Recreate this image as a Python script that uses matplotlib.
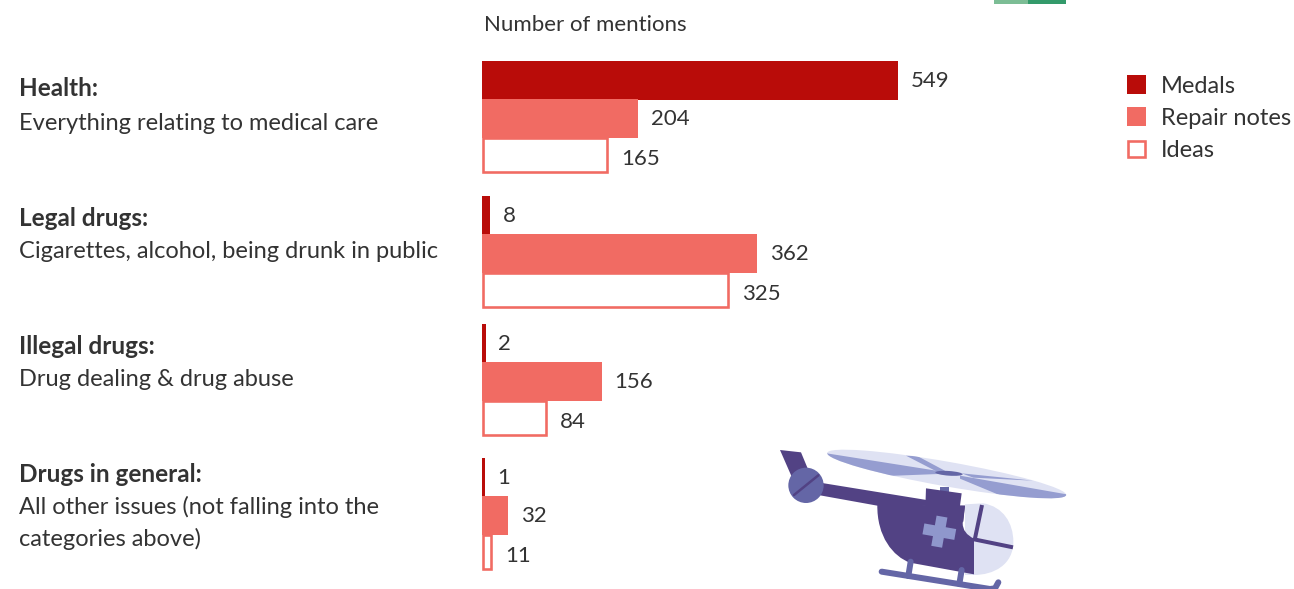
from matplotlib.patches import Circle, Ellipse, PathPatch, Polygon, Rectangle
from matplotlib.path import Path
from matplotlib.transforms import Affine2D
import matplotlib.pyplot as plt
import numpy as np

plt.rcParams['font.family'] = ['Lato', 'DejaVu Sans']

# Data
categories = ['Health:', 'Legal drugs:', 'Illegal drugs:', 'Drugs in general:']
descriptions = ['Everything relating to medical care',
                'Cigarettes, alcohol, being drunk in public',
                'Drug dealing & drug abuse',
                'All other issues (not falling into the\ncategories above)']
medals = [549, 8, 2, 1]
repair_notes = [204, 362, 156, 32]
ideas = [165, 325, 84, 11]

DARK_RED = '#b90c09'
SALMON = '#f16b63'
TEXT = '#333333'
PX = 72 / 100  # one pixel in points

fig = plt.figure(figsize=(12.94, 5.89), dpi=100)

# Overlay in pixel coordinates for text and the illustration
canvas = fig.add_axes([0, 0, 1, 1])
canvas.set_xlim(0, 1294)
canvas.set_ylim(589, 0)
canvas.axis('off')

# Bars: x is number of mentions, y stays in pixels
scale = 0.754
x0 = 483
ax = fig.add_axes([0, 0, 1, 1], facecolor='none')
ax.set_xlim(-x0 / scale, (1294 - x0) / scale)
ax.set_ylim(589, 0)
ax.axis('off')

centres = np.array([118, 253, 381, 515])
bar_h = 37
b1 = ax.barh(centres - 38, medals, height=bar_h, color=DARK_RED, edgecolor=DARK_RED, linewidth=2 * PX, label='Medals')
b2 = ax.barh(centres, repair_notes, height=bar_h, color=SALMON, edgecolor=SALMON, linewidth=2 * PX, label='Repair notes')
b3 = ax.barh(centres + 37, ideas, height=bar_h - 3, color='white', edgecolor=SALMON, linewidth=2.6 * PX, label='Ideas')

# value labels, nudged down a little per series
for bars, dy in ((b1, -1), (b2, -1), (b3, -3)):
    for ann in ax.bar_label(bars, padding=10, fontsize=16, color=TEXT):
        ann.xyann = (10, dy)

leg = ax.legend(handles=[b1, b2, b3], loc='upper left', bbox_to_anchor=(1128 / 1294, 1 - 76 / 589),
                frameon=False, fontsize=17, labelcolor=TEXT, handlelength=0.72, handleheight=0.72,
                handletextpad=0.68, labelspacing=0.47, borderpad=0, borderaxespad=0)

canvas.text(484, 25, 'Number of mentions', fontsize=16, color=TEXT, va='center')

# baselines; a wrapped description sits on its last line
title_base = [96, 226, 354, 482]
text_base = [130, 258, 386, 546]
for name, text, yt, yd in zip(categories, descriptions, title_base, text_base):
    canvas.text(19, yt, name, fontsize=17.5, fontweight='bold', color=TEXT, va='baseline')
    canvas.text(19, yd, text, fontsize=17, color=TEXT, va='baseline', linespacing=1.57)

# Green strip along the top edge
canvas.add_patch(Rectangle((994, 0), 34, 3.5, color='#7cbd95', lw=0))
canvas.add_patch(Rectangle((1028, 0), 38, 3.5, color='#339a6b', lw=0))

# Helicopter, outlined on a 3x grid and moved into place
heli = Affine2D().scale(1 / 3).translate(770, 440) + canvas.transData
PURPLE = '#524284'
MID = '#6466a6'
LIGHT = '#dfe2f3'
BLADE = '#959dd0'


def add(patch):
    patch.set_transform(heli)
    canvas.add_patch(patch)
    return patch


def line(points, color, width):
    xs, ys = zip(*points)
    canvas.plot(xs, ys, color=color, lw=width * PX, solid_capstyle='round', transform=heli)


# rotor disc and blades, blades clipped to the disc
disc = add(Ellipse((530, 102), 728, 74, angle=10, color=LIGHT, lw=0))
for pts in ([(170, 40), (505, 93), (505, 102), (300, 110), (150, 60)],
            [(570, 107), (890, 163), (890, 190), (700, 170), (570, 116)],
            [(408, 47), (440, 47), (530, 95), (505, 97)],
            [(575, 100), (790, 122), (610, 113)]):
    blade = add(Polygon(pts, color=BLADE, lw=0))
    blade.set_clip_path(disc)
add(Ellipse((537, 100), 82, 14, angle=4, color=MID, lw=0))
add(Rectangle((510, 140), 28, 16, color=MID, lw=0))

# windscreen behind the fuselage
add(PathPatch(Path([(585, 193), (640, 190), (700, 200), (730, 250), (730, 305), (730, 375), (670, 405), (612, 405),
                    (585, 405), (585, 193)],
                   [Path.MOVETO, Path.LINETO, Path.CURVE4, Path.CURVE4, Path.CURVE4, Path.CURVE4, Path.CURVE4, Path.CURVE4,
                    Path.LINETO, Path.CLOSEPOLY]),
              color=LIGHT, lw=0))

# tail and fuselage
add(Polygon([(30, 30), (93, 37), (115, 90), (65, 110)], color=PURPLE, lw=0))
add(Polygon([(150, 128), (470, 180), (470, 197), (322, 197), (150, 166)], color=PURPLE, lw=0))
add(Polygon([(468, 145), (575, 160), (570, 197), (585, 197), (580, 245), (465, 230)], color=PURPLE, lw=0))
add(PathPatch(Path([(322, 193), (585, 197), (578, 250), (578, 280), (612, 296), (612, 403), (420, 368),
                    (370, 350), (320, 290), (322, 193), (322, 193)],
                   [Path.MOVETO, Path.LINETO, Path.LINETO, Path.CURVE3, Path.CURVE3, Path.LINETO, Path.LINETO,
                    Path.CURVE4, Path.CURVE4, Path.CURVE4, Path.CLOSEPOLY]),
              color=PURPLE, lw=0))
add(Circle((108, 136), 53, color=MID, lw=0))
line([(72, 165), (145, 106)], PURPLE, 2.5)

# window frame
canvas.plot([636, 614], [195, 300], color=PURPLE, lw=4 * PX, transform=heli, solid_capstyle='butt')
canvas.plot([612, 729], [298, 322], color=PURPLE, lw=4 * PX, transform=heli, solid_capstyle='butt')

# medical cross
cross = Affine2D().rotate_deg(10).translate(508, 275) + heli
for w, h in ((97, 33), (33, 92)):
    canvas.add_patch(Rectangle((-w / 2, -h / 2), w, h, color='#8f97cc', lw=0, transform=cross))

# skids
line([(422, 365), (415, 408)], MID, 6)
line([(575, 390), (568, 432)], MID, 6)
canvas.plot([335, 660, 675, 685], [395, 447, 445, 427], color=MID, lw=6 * PX, solid_capstyle='round',
            solid_joinstyle='round', transform=heli)

fig.savefig('out.png', dpi=100)
